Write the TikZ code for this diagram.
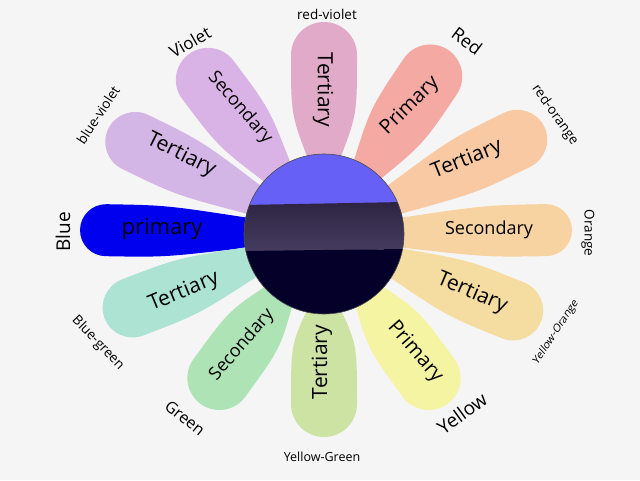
\documentclass[tikz,border=0pt]{standalone}
\usepackage{fontspec}
\setmainfont{Open Sans}
\usetikzlibrary{positioning}

\definecolor{bgGray}{HTML}{F6F5F5}
\definecolor{cRedViolet}{HTML}{E2AAC9}
\definecolor{cRed}{HTML}{F4A9A3}
\definecolor{cRedOrange}{HTML}{F8C9A3}
\definecolor{cOrange}{HTML}{F6D3A0}
\definecolor{cYellowOrange}{HTML}{F5DCA0}
\definecolor{cYellow}{HTML}{F5F4A3}
\definecolor{cYellowGreen}{HTML}{CDE3A3}
\definecolor{cGreen}{HTML}{ADE3B5}
\definecolor{cBlueGreen}{HTML}{ADE3D3}
\definecolor{cBlue}{HTML}{0000EE}
\definecolor{cBlueViolet}{HTML}{D3B5E6}
\definecolor{cViolet}{HTML}{DAB3E6}
\definecolor{hubTop}{HTML}{6660F6}
\definecolor{hubMidA}{HTML}{2E2442}
\definecolor{hubMidB}{HTML}{463C60}
\definecolor{hubLow}{HTML}{05002A}

\tikzstyle{tertText} = [inner sep=0pt, font=\fontsize{21}{21}\selectfont]
\tikzstyle{secText} = [inner sep=0pt, font=\fontsize{18}{18}\selectfont]
\tikzstyle{primText} = [inner sep=0pt, font=\fontsize{20}{20}\selectfont]
\tikzstyle{rimText} = [inner sep=0pt, font=\fontsize{13.5}{13.5}\selectfont]

% angle, length, end radius, colour
\newcommand{\petal}[4]{%
  \fill[#4, shift={(hub)}, rotate=#1]
    (70,-14) .. controls ({#2-#3-60},-#3) .. ({#2-#3},-#3)
    arc[start angle=-90, end angle=90, radius=#3]
    .. controls ({#2-#3-60},#3) .. (70,14) -- cycle;}

\begin{document}
\begin{tikzpicture}[x=1pt, y=1pt]
  \useasboundingbox (0,0) rectangle (640,480);
  \fill[bgGray] (0,0) rectangle (640,480);
  \coordinate (hub) at (324,246);

  % petals
  \petal{1}{248}{26}{cOrange}
  \petal{26}{245}{30}{cRedOrange}
  \petal{56}{222}{32}{cRed}
  \petal{90}{212}{33}{cRedViolet}
  \petal{127}{225}{32}{cViolet}
  \petal{154}{240}{30}{cBlueViolet}
  \petal{179}{244}{26}{cBlue}
  \petal{201}{235}{30}{cBlueGreen}
  \petal{234}{210}{32}{cGreen}
  \petal{270}{203}{33}{cYellowGreen}
  \petal{306}{210}{32}{cYellow}
  \petal{338}{234}{30}{cYellowOrange}

  % centre disc
  \begin{scope}[shift={(hub)}]
    \clip (0,0) circle[radius=80];
    \fill[hubTop] (-80,80) rectangle (80,28);
    \shade[top color=hubMidA, bottom color=hubMidB]
      (-80,29) -- (80,32) -- (80,-15) -- (-80,-18) -- cycle;
    \fill[hubLow] (-80,-17) -- (80,-15) -- (80,-80) -- (-80,-80) -- cycle;
  \end{scope}
  \draw[line width=0.6pt, black!70] (hub) circle[radius=80];

  % petal texts
  \node[tertText, rotate=-90] (tRV) at (323,390) {Tertiary};
  \node[primText, rotate=44.5] (pR) at (410,374) {Primary};
  \node[tertText, rotate=22] (tRO) at (467,320) {Tertiary};
  \node[secText] (sO) at (489,250) {Secondary};
  \node[tertText, rotate=-23] (tYO) at (472,187) {Tertiary};
  \node[primText, rotate=-49] (pY) at (415,128) {Primary};
  \node[tertText, rotate=90] (tYG) at (322,118) {Tertiary};
  \node[secText, rotate=49] (sG) at (242,135) {Secondary};
  \node[tertText, rotate=22.5] (tBG) at (184,188) {Tertiary};
  \node[tertText, font=\fontsize{22}{22}\selectfont] (pB) at (162,251) {primary};
  \node[tertText, rotate=-26.6] (tBV) at (181,325) {Tertiary};
  \node[secText, rotate=-49] (sV) at (240,372) {Secondary};

  % colour names
  \node[rimText] (nRV) at (327,466) {red-violet};
  \node[rimText, font=\fontsize{18}{18}\selectfont, rotate=-37] (nR) at (467,439) {Red};
  \node[rimText, rotate=-54.5] (nRO) at (555,365) {red-orange};
  \node[rimText, rotate=-90] (nO) at (588,247) {Orange};
  \node[rimText, font=\fontsize{12}{12}\selectfont, xscale=0.8, rotate=50.5] (nYO) at (556,148) {Yellow-Orange};
  \node[rimText, font=\fontsize{19}{19}\selectfont, rotate=36] (nY) at (462,67) {Yellow};
  \node[rimText, font=\fontsize{12.5}{12.5}\selectfont] (nYG) at (322,23) {Yellow-Green};
  \node[rimText, font=\fontsize{16}{16}\selectfont, rotate=-39] (nG) at (185,62) {Green};
  \node[rimText, rotate=-46] (nBG) at (98,137) {Blue-green};
  \node[rimText, font=\fontsize{19}{19}\selectfont, rotate=90] (nB) at (63,248) {Blue};
  \node[rimText, rotate=56.5] (nBV) at (98,365) {blue-violet};
  \node[rimText, font=\fontsize{17}{17}\selectfont, rotate=30] (nV) at (190,438) {Violet};
\end{tikzpicture}
\end{document}
